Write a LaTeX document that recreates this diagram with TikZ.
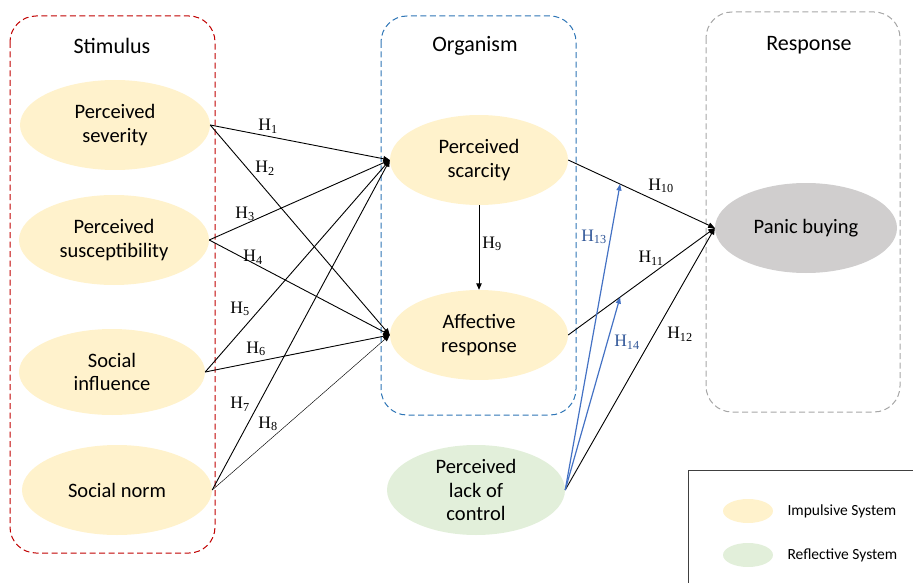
\documentclass[tikz,border=0pt]{standalone}
\usepackage{fontspec}
\setmainfont{Carlito}
\newfontfamily\hypfont{Liberation Serif}
\usetikzlibrary{shapes.geometric,arrows.meta}
\definecolor{impulsive color}{HTML}{FFF2CC}
\definecolor{reflective color}{HTML}{E2EFDA}
\definecolor{outcome color}{HTML}{D0CECE}
\definecolor{stimulus frame}{HTML}{C00000}
\definecolor{organism frame}{HTML}{2E75B6}
\definecolor{response frame}{HTML}{A6A6A6}
\definecolor{moderator color}{HTML}{4472C4}
\definecolor{moderator label}{HTML}{2F5597}
\tikzset{
    x={1pt},
    y={-1pt},
    stage frame/.style={
        draw={#1},
        dash pattern=on 6pt off 3.5pt,
        line width={1pt},
        rounded corners={26pt},
    },
    stage title/.style={
        font={\fontsize{22}{26}\selectfont},
        anchor=center,
    },
    construct/.style={
        ellipse, fill={#1}, draw=none,
        minimum width={190},
        minimum height={90},
        inner sep=0pt,
        align=center,
        font={\fontsize{20.5}{23.5}\selectfont},
    },
    construct/.default={impulsive color},
    path arrow/.style={
        draw=black,
        line width={#1},
        -{Triangle[length=6.5pt,width=5.5pt]},
    },
    path arrow/.default={0.9pt},
    moderator arrow/.style={
        draw=moderator color,
        line width={1.2pt},
        -{Triangle[length=6.5pt,width=5pt]},
    },
    hyp label/.style={
        font={\hypfont\fontsize{17.5}{20}\selectfont},
        text={#1},
        inner sep=1pt,
    },
    hyp label/.default={black},
    legend key/.style={
        ellipse, fill={#1}, draw=none,
        minimum width={50},
        minimum height={24},
        inner sep=0pt,
    },
    legend text/.style={
        font={\fontsize{15.5}{18}\selectfont},
        anchor=west,
    },
}

\begin{document}
\begin{tikzpicture}
\useasboundingbox (0,0) rectangle (913,583);
% stage frames
\draw[stage frame={stimulus frame}] (10,16) rectangle (215,553);
\draw[stage frame={organism frame}] (381,16) rectangle (576,415);
\draw[stage frame={response frame}] (706,12) rectangle (900,412);
\node[stage title] (stimulus) at (112,46) {Stimulus};
\node[stage title] (organism) at (475,46) {Organism};
\node[stage title] (response) at (809,45) {Response};
% constructs
\node[construct] (severity) at (115,125) {Perceived\\severity};
\node[construct] (suscept) at (114,240) {Perceived\\susceptibility};
\node[construct, minimum width={186}, minimum height={86}] (influence) at (112,372) {Social\\influence};
\node[construct] (norm) at (117,490) {Social norm};
\node[construct, minimum width={178}] (scarcity) at (479,160) {Perceived\\scarcity};
\node[construct, minimum width={178}] (affective) at (479,335) {Affective\\response};
\node[construct={reflective color}, minimum width={178}] (control) at (476,490) {Perceived\\lack of\\control};
\node[construct={outcome color}, minimum width={182}] (panic) at (806,228) {Panic buying};
% hypothesised paths
\draw[path arrow] (severity.east) -- (scarcity.west);
\draw[path arrow] (severity.east) -- (affective.west);
\draw[path arrow] (suscept.east) -- (scarcity.west);
\draw[path arrow] (suscept.east) -- (affective.west);
\draw[path arrow] (influence.east) -- (scarcity.west);
\draw[path arrow] (influence.east) -- (affective.west);
\draw[path arrow] (norm.east) -- (scarcity.west);
\draw[path arrow={0.45pt}] (norm.east) -- (affective.west);
\draw[path arrow] (scarcity.south) -- (affective.north);
\draw[path arrow] (scarcity.east) -- coordinate[pos=0.354] (mod10) (panic.west);
\draw[path arrow] (affective.east) -- coordinate[pos=0.354] (mod11) (panic.west);
\draw[path arrow] (control.east) -- (panic.west);
% moderating paths
\draw[moderator arrow] (control.east) -- (mod10);
\draw[moderator arrow] (control.east) -- (mod11);
% path labels
\node[hyp label] (h1) at (268,126) {H\textsubscript{1}};
\node[hyp label] (h2) at (265,168) {H\textsubscript{2}};
\node[hyp label] (h3) at (245,214) {H\textsubscript{3}};
\node[hyp label] (h4) at (253,257) {H\textsubscript{4}};
\node[hyp label] (h5) at (240,309) {H\textsubscript{5}};
\node[hyp label] (h6) at (256,349) {H\textsubscript{6}};
\node[hyp label] (h7) at (240,404) {H\textsubscript{7}};
\node[hyp label] (h8) at (268,424) {H\textsubscript{8}};
\node[hyp label] (h9) at (492,244) {H\textsubscript{9}};
\node[hyp label] (h10) at (661,186) {H\textsubscript{10}};
\node[hyp label] (h11) at (651,258) {H\textsubscript{11}};
\node[hyp label] (h12) at (680,334) {H\textsubscript{12}};
\node[hyp label={moderator label}] (h13) at (594,237) {H\textsubscript{13}};
\node[hyp label={moderator label}] (h14) at (627,342) {H\textsubscript{14}};
% legend
\draw[draw={black!75}, line width={0.9pt}] (688,583) -- (688,470) -- (913,470);
\node[legend key={impulsive color}] (keyimp) at (748,511) {};
\node[legend key={reflective color}] (keyref) at (748,555) {};
\node[legend text] (txtimp) at (784,511) {Impulsive System};
\node[legend text] (txtref) at (784,555) {Reflective System};
\end{tikzpicture}
\end{document}
